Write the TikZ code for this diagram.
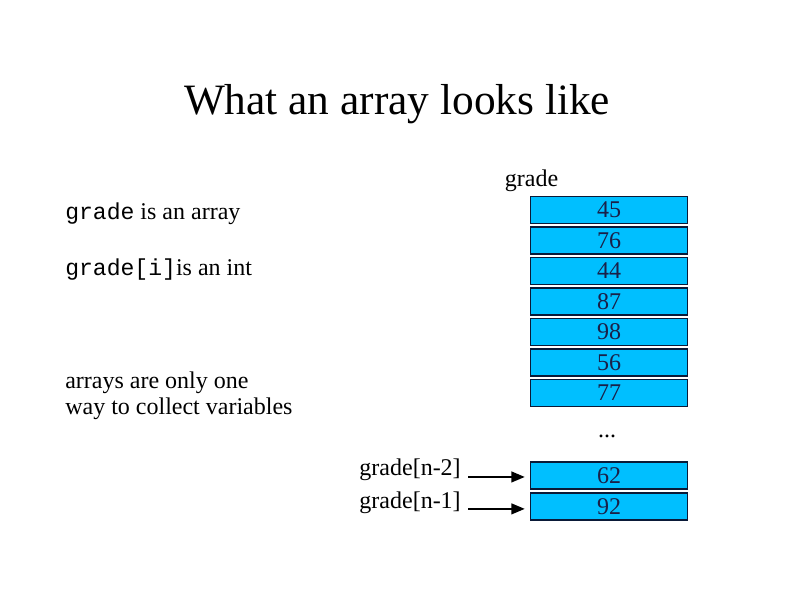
\documentclass[tikz,border=0pt]{standalone}
\usepackage{fontspec}
\setmainfont{Liberation Serif}
\setmonofont{Liberation Mono}
\usetikzlibrary{arrows.meta}
\definecolor{cellblue}{HTML}{00BFFF}
\definecolor{celledge}{HTML}{0A1A38}
\definecolor{celltext}{HTML}{1A2048}
\begin{document}
\begin{tikzpicture}[x=0.75pt,y=-0.75pt,
  cell/.style={draw=celledge,fill=cellblue,line width=1.1pt,minimum width=117.75pt,minimum height=20.25pt,inner sep=0pt,text=celltext,font=\fontsize{18}{21}\selectfont},
  body/.style={inner sep=0pt,font=\fontsize{18}{21}\selectfont},
  code/.style={font=\fontsize{17.3}{21}\selectfont\ttfamily},
  arr/.style={line width=1.5pt,-{Triangle[length=10pt,width=8pt]}}]
\useasboundingbox (0,0) rectangle (794,595);
% title
\node[inner sep=0pt,anchor=base,font=\fontsize{32.5}{38}\selectfont] (title) at (397,115) {What an array looks like};
% left texts
\node[body,anchor=base west] (t1) at (65,220) {{\fontsize{17.3}{21}\ttfamily grade} is an array};
\node[body,anchor=base west] (t2) at (65,276) {{\fontsize{17.3}{21}\ttfamily grade[i]}is an int};
\node[body,anchor=base west] (t3) at (65,389) {arrays are only one};
\node[body,anchor=base west] (t4) at (65,415) {way to collect variables};
% array label
\node[body,anchor=base] (lab) at (531.5,187) {grade};
% cells
\node[cell] (b1) at (609,210) {45};
\node[cell] (b2) at (609,240.5) {76};
\node[cell] (b3) at (609,271) {44};
\node[cell] (b4) at (609,301.5) {87};
\node[cell] (b5) at (609,332) {98};
\node[cell] (b6) at (609,362.5) {56};
\node[cell] (b7) at (609,393) {77};
\node[body,anchor=base] (dots) at (607,438) {...};
\node[cell] (b8) at (609,475.5) {62};
\node[cell] (b9) at (609,506.5) {92};
% index labels
\node[body,anchor=base east] (l1) at (461,476) {grade[n-2]};
\node[body,anchor=base east] (l2) at (461,509) {grade[n-1]};
\draw[arr,shorten <=5.25pt,shorten >=3.75pt] ([yshift=-1.1pt]l1.east |- b8.west) -- ([yshift=-1.1pt]b8.west);
\draw[arr,shorten <=5.25pt,shorten >=3.75pt] ([yshift=-1.8pt]l2.east |- b9.west) -- ([yshift=-1.8pt]b9.west);
\end{tikzpicture}
\end{document}
